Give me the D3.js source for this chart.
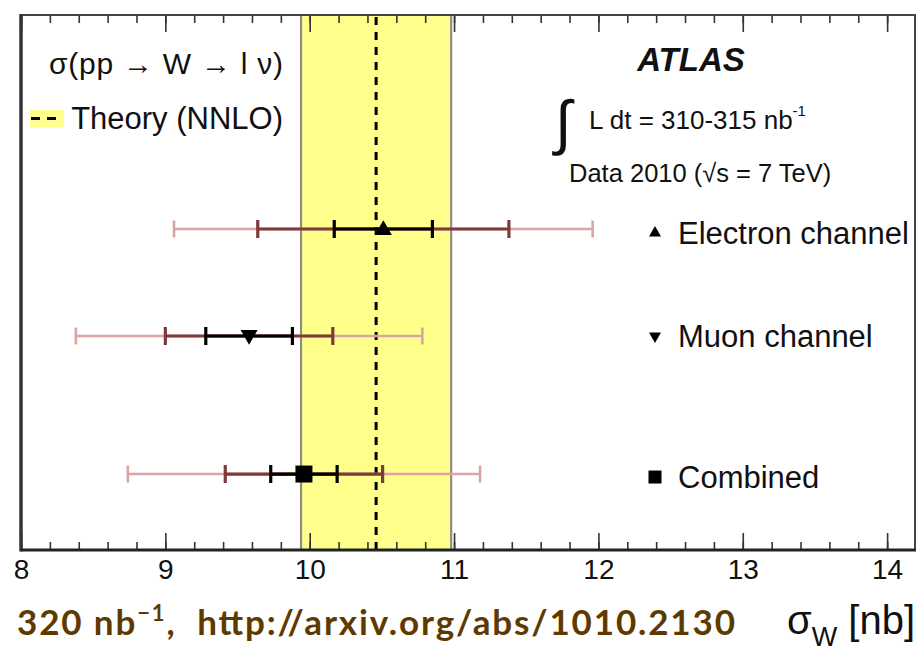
<!DOCTYPE html>
<html>
<head>
<meta charset="utf-8">
<script src="https://cdn.jsdelivr.net/npm/d3@7"></script>
<style>
  html, body { margin: 0; padding: 0; background: #ffffff; }
  svg { display: block; }
  text { font-family: "Liberation Sans", Arial, Helvetica, sans-serif; }
</style>
</head>
<body>
<svg id="chart" width="919" height="655"></svg>
<script>
// ---------------- data ----------------
const categories = ["Electron channel", "Muon channel", "Combined"];
const centralValues = [10.51, 9.58, 9.96];
const statErr = [0.34, 0.30, 0.23];
const statSystErr = [0.87, 0.58, 0.545];
const totalErr = [1.45, 1.20, 1.22];
const rowPositions = [0.60, 0.40, 0.142];   // vertical position of each row (plot units 0..1)
const markerTypes = ["up", "down", "square"];
const theoryValue = 10.46;
const theoryErr = 0.52;
const xDomain = [8, 14.2];
const majorTicks = [8, 9, 10, 11, 12, 13, 14];
const minorTicks = d3.range(8, 14.2, 0.2).map(v => Math.round(v * 10) / 10);

// ---------------- layout ----------------
const svg = d3.select("#chart");
const plot = { left: 21, right: 916, top: 15, bottom: 550 };
const x = d3.scaleLinear().domain(xDomain).range([plot.left, plot.right]);
const y = d3.scaleLinear().domain([0, 1]).range([plot.bottom, plot.top]);

// theory band
svg.append("rect")
  .attr("x", x(theoryValue - theoryErr)).attr("y", plot.top)
  .attr("width", x(theoryValue + theoryErr) - x(theoryValue - theoryErr))
  .attr("height", plot.bottom - plot.top)
  .attr("fill", "#ffff8c");
[theoryValue - theoryErr, theoryValue + theoryErr].forEach(v => {
  svg.append("line")
    .attr("x1", x(v)).attr("x2", x(v)).attr("y1", plot.top).attr("y2", plot.bottom)
    .attr("stroke", "#8f8f80").attr("stroke-width", 2.2);
});
svg.append("line")
  .attr("x1", x(theoryValue)).attr("x2", x(theoryValue))
  .attr("y1", plot.top + 2).attr("y2", plot.bottom)
  .attr("stroke", "#000").attr("stroke-width", 3)
  .attr("stroke-dasharray", "8,7");

// axes ticks
const gBottom = svg.append("g").attr("transform", `translate(0,${plot.bottom})`);
gBottom.call(d3.axisBottom(x).tickValues(minorTicks).tickSize(-8).tickFormat(""));
gBottom.call(g => g.select(".domain").remove());
const gBottomMajor = svg.append("g").attr("transform", `translate(0,${plot.bottom})`);
gBottomMajor.call(d3.axisBottom(x).tickValues(majorTicks).tickSize(-17).tickPadding(9).tickFormat(d3.format("d")));
gBottomMajor.select(".domain").remove();
gBottomMajor.selectAll("text")
  .attr("font-size", 28).attr("fill", "#111")
  .style("font-family", "'Liberation Sans', Arial, sans-serif");

const gTop = svg.append("g").attr("transform", `translate(0,${plot.top})`);
gTop.call(d3.axisTop(x).tickValues(minorTicks).tickSize(-8).tickFormat(""));
gTop.select(".domain").remove();
const gTopMajor = svg.append("g").attr("transform", `translate(0,${plot.top})`);
gTopMajor.call(d3.axisTop(x).tickValues(majorTicks).tickSize(-17).tickFormat(""));
gTopMajor.select(".domain").remove();
svg.selectAll(".tick line").attr("stroke", "#333").attr("stroke-width", 1.6);

// frame
svg.append("line").attr("x1", plot.left).attr("x2", plot.right).attr("y1", plot.top).attr("y2", plot.top)
  .attr("stroke", "#444").attr("stroke-width", 2);
svg.append("line").attr("x1", plot.right - 1).attr("x2", plot.right - 1).attr("y1", plot.top).attr("y2", plot.bottom)
  .attr("stroke", "#444").attr("stroke-width", 2);
svg.append("line").attr("x1", plot.left).attr("x2", plot.left).attr("y1", plot.top - 1).attr("y2", plot.bottom + 1.5)
  .attr("stroke", "#333").attr("stroke-width", 3.5);
svg.append("line").attr("x1", plot.left).attr("x2", plot.right).attr("y1", plot.bottom).attr("y2", plot.bottom)
  .attr("stroke", "#222").attr("stroke-width", 3);

// error bars
const layers = [
  { err: totalErr, color: "#dca4a4", width: 2.6, cap: 17 },
  { err: statSystErr, color: "#7e3b3b", width: 3.2, cap: 18 },
  { err: statErr, color: "#000000", width: 3.2, cap: 18 }
];
const rows = categories.map((c, i) => ({ c, i, v: centralValues[i], yy: y(rowPositions[i]) }));
layers.forEach(L => {
  const g = svg.append("g");
  rows.forEach(r => {
    const lo = x(r.v - L.err[r.i]), hi = x(r.v + L.err[r.i]);
    g.append("line").attr("x1", lo).attr("x2", hi).attr("y1", r.yy).attr("y2", r.yy)
      .attr("stroke", L.color).attr("stroke-width", L.width);
    [lo, hi].forEach(px => g.append("line")
      .attr("x1", px).attr("x2", px).attr("y1", r.yy - L.cap / 2).attr("y2", r.yy + L.cap / 2)
      .attr("stroke", L.color).attr("stroke-width", L.width));
  });
});

function markerPath(type, size) {
  if (type === "square") return d3.symbol(d3.symbolSquare, size * size)();
  return d3.symbol(d3.symbolTriangle, Math.sqrt(3) / 4 * size * size)();
}
rows.forEach(r => {
  const t = markerTypes[r.i];
  svg.append("path")
    .attr("d", markerPath(t, 17))
    .attr("transform", `translate(${x(r.v)},${r.yy + (t === "up" ? 1 : t === "down" ? -1 : 0)}) rotate(${t === "down" ? 180 : 0})`)
    .attr("fill", "#000");
});

// legend for channels (right side)
const legendMarkX = 655, legendTextX = 678;
rows.forEach(r => {
  const t = markerTypes[r.i];
  const ly = r.yy + (r.i === 0 ? 4 : r.i === 2 ? 3 : 0);
  svg.append("path")
    .attr("d", markerPath(t, t === "square" ? 13 : 12))
    .attr("transform", `translate(${legendMarkX},${ly}) rotate(${t === "down" ? 180 : 0})`)
    .attr("fill", "#000");
  svg.append("text").attr("x", legendTextX).attr("y", ly + 11)
    .attr("font-size", 31).attr("fill", "#111").text(r.c);
});

// top-left legend
svg.append("text").attr("x", 283).attr("y", 74).attr("text-anchor", "end")
  .attr("font-size", 30).attr("fill", "#111")
  .attr("textLength", 234).attr("lengthAdjust", "spacing")
  .text("σ(pp → W → l ν)");
svg.append("rect").attr("x", 30).attr("y", 110).attr("width", 34).attr("height", 17).attr("fill", "#ffff8c");
svg.append("line").attr("x1", 31).attr("x2", 60).attr("y1", 118.5).attr("y2", 118.5)
  .attr("stroke", "#000").attr("stroke-width", 3).attr("stroke-dasharray", "9,7");
svg.append("text").attr("x", 283).attr("y", 129).attr("text-anchor", "end")
  .attr("font-size", 31).attr("fill", "#111")
  .text("Theory (NNLO)");

// ATLAS block
svg.append("text").attr("x", 691).attr("y", 71).attr("text-anchor", "middle")
  .attr("font-size", 33).attr("font-weight", "bold").attr("font-style", "italic").attr("fill", "#111")
  .text("ATLAS");
svg.append("text").attr("x", 555).attr("y", 143)
  .attr("font-size", 60).attr("fill", "#111").text("∫");
const lumi = svg.append("text").attr("x", 589).attr("y", 129).attr("font-size", 26).attr("fill", "#111");
lumi.append("tspan").text("L dt = 310-315 nb");
lumi.append("tspan").attr("font-size", 15).attr("dy", -13).text("-1");
svg.append("text").attr("x", 569).attr("y", 182).attr("font-size", 25.5).attr("fill", "#111")
  .text("Data 2010 (√s = 7 TeV)");

// axis title
const axTitle = svg.append("text").attr("x", 915).attr("y", 634).attr("text-anchor", "end")
  .attr("font-size", 40).attr("fill", "#111");
axTitle.append("tspan").text("σ");
axTitle.append("tspan").attr("font-size", 27).attr("dy", 12).text("W");
axTitle.append("tspan").attr("dy", -12).text(" [nb]");

// bottom caption
const cap = svg.append("text").attr("x", 17).attr("y", 635)
  .attr("font-size", 35).attr("font-weight", "bold").attr("fill", "#5e3a00")
  .style("font-family", "Lato, 'Open Sans', sans-serif")
  .style("white-space", "pre")
  .attr("textLength", 718).attr("lengthAdjust", "spacing");
cap.append("tspan").text("320 nb");
cap.append("tspan").attr("font-size", 22).attr("dy", -14).text("−1");
cap.append("tspan").attr("dy", 14).text(",  http://arxiv.org/abs/1010.2130");
</script>
</body>
</html>
